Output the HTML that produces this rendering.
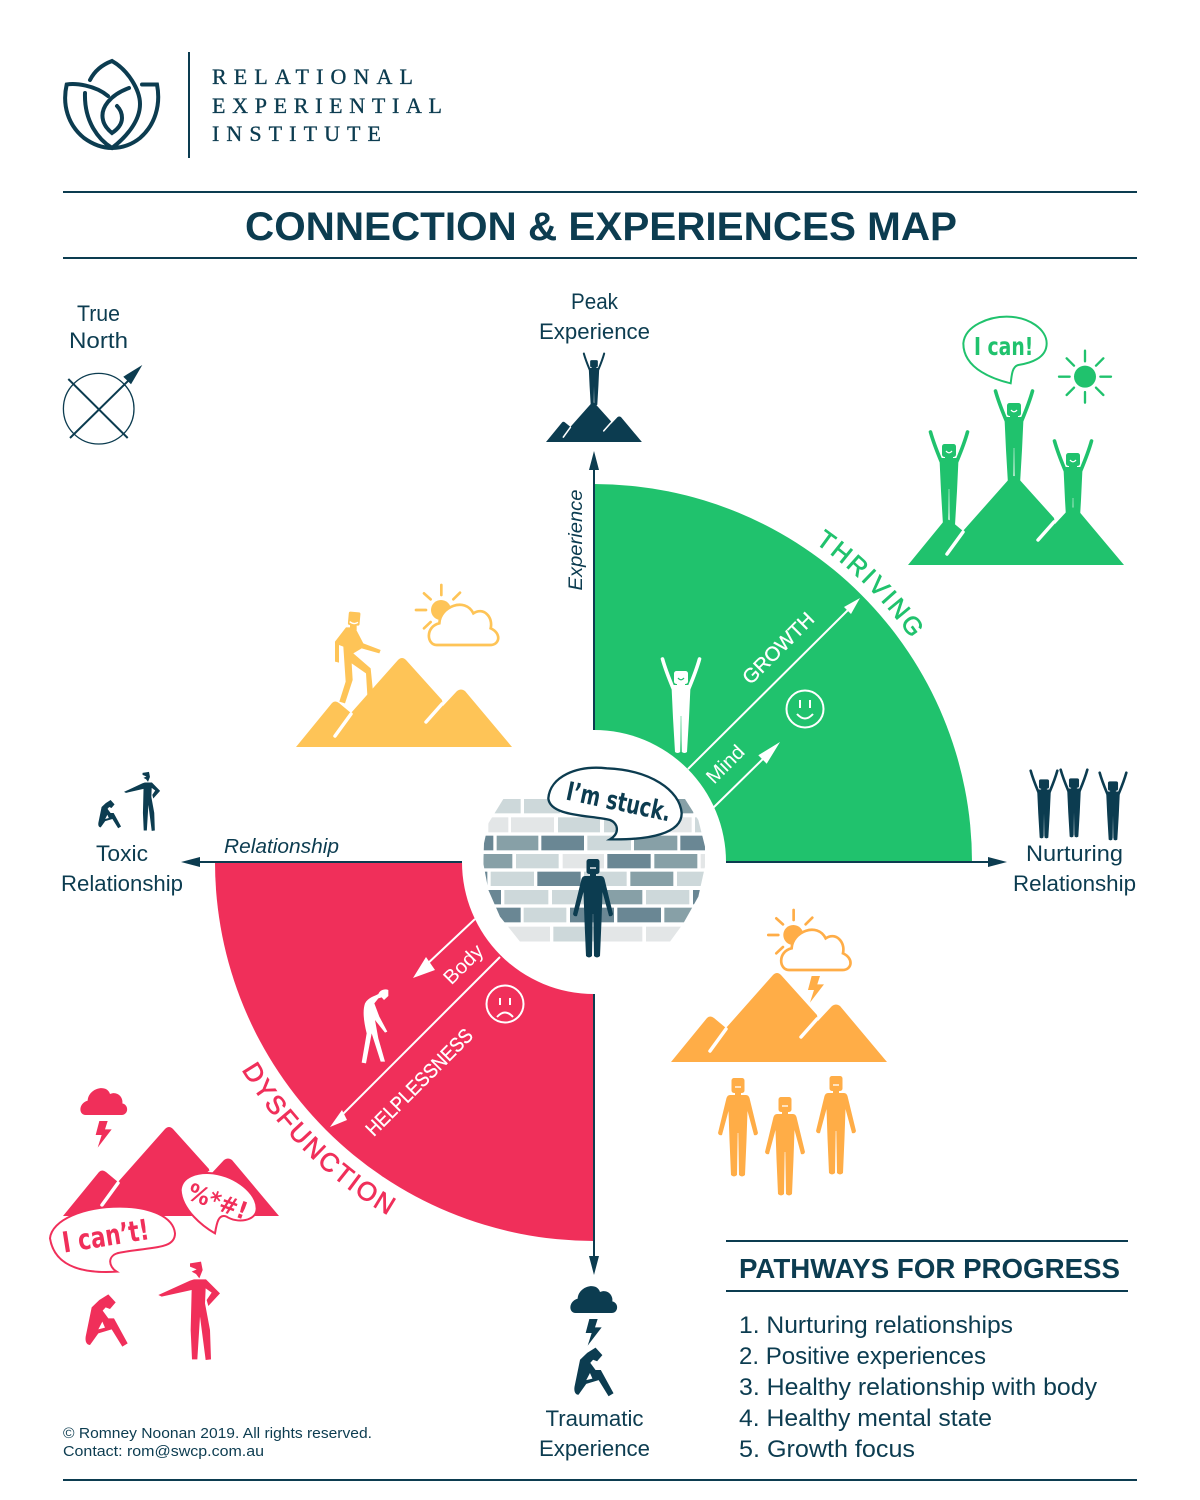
<!DOCTYPE html>
<html><head><meta charset="utf-8"><title>Connection &amp; Experiences Map</title>
<style>
html,body{margin:0;padding:0;background:#fff}
svg{display:block}
text{font-family:"Liberation Sans",sans-serif}
.l{font-size:22px;fill:#0c3c50;text-anchor:middle}
.hand{font-family:"DejaVu Sans","Liberation Sans",sans-serif;font-weight:bold}
</style></head><body>
<svg width="1200" height="1500" viewBox="0 0 1200 1500" xmlns="http://www.w3.org/2000/svg">
<defs>
<g id="up">
<path d="M-18.500,1C-16,10-13,18-8,30M18.500,1C16,10 13,18 8,30" fill="none" stroke="currentColor" stroke-width="3.600" stroke-linecap="round"/>
<path d="M-9,27L-4,27-4,24 4,24 4,27 9,27Q9.500,27 9.500,28L8,60 6,94Q3.500,96 .8,94L0,60-.8,94Q-3.500,96-6,94L-8,60-9.500,28Z" fill="currentColor"/>
<rect x="-7" y="13" width="14" height="13" rx="2.500" fill="currentColor"/>
<path d="M-3,20Q0,23.500 3,20" fill="none" stroke="var(--b)" stroke-width="1.300"/>
<path d="M0,58V92" stroke="var(--b)" stroke-width="1" opacity=".5"/>
</g>
<g id="man">
<rect x="-6.500" y="0" width="13" height="15" rx="2.500" fill="currentColor"/>
<path d="M-3,9H3" stroke="var(--b)" stroke-width="1.300"/>
<path d="M-8,17L8,17Q10.500,17 11.500,20L20,55Q19,58 16,57L9.500,33 8.500,62 7,97Q4,100 1,97L.3,55-.3,55-1,97Q-4,100-7,97L-8.500,62-9.500,33-16,57Q-19,58-20,55L-11.500,20Q-10.500,17-8,17Z" fill="currentColor"/>
<path d="M-3,14V18H3V14Z" fill="currentColor"/>
</g>
<g id="mtn">
<path d="M0,0L36,-44Q39,-47 43,-44L55,-34 102,-87Q106,-91 110,-87L146,-47 147,-41 161,-56Q165,-59 169,-56L216,0Z" fill="currentColor"/>
<path d="M39,-11L55,-33M130,-25L146,-43" stroke="#fff" stroke-width="3.500" stroke-linecap="round"/>
</g>
<path id="cloud" d="M137,135C115,135 115,100 143,92C145,55 200,40 210,72C235,62 250,85 247,100C268,105 265,135 245,135Z" fill="currentColor"/>
<path id="bolt" d="M178,153L203,153 195,178 215,178 173,233 185,195 167,195Z" fill="currentColor"/>
<path id="sit" fill-rule="evenodd" d="M155,712L178,690 205,673 227,697 210,717 197,712 188,722 205,745 222,745 263,820 247,830 215,778 175,790 150,825C140,825 135,815 137,800ZM187,755L175,778 195,773Z" fill="currentColor"/>
<path id="point" d="M450,580L483,575 488,600 478,625 468,612 455,605 470,598 450,590ZM462,628L498,628 540,670 505,708 500,690 515,668 497,655 495,700 510,780 513,868 497,870 480,740 472,868 456,868 452,780 455,660 365,680 355,675 450,632Z" fill="currentColor"/>
<g id="sunc">
<circle cx="483" cy="120" r="30" fill="currentColor"/>
<path d="M484,45V75M432,70L452,88M540,68L520,88M408,120H438M432,175L452,156" stroke="currentColor" stroke-width="8" stroke-linecap="round"/>
<path d="M470,225C440,225 435,170 478,160C480,110 555,80 580,130C610,110 640,140 632,175C665,190 660,225 630,225Z" fill="#fff" stroke="currentColor" stroke-width="8"/>
</g>
<clipPath id="wall"><path d="M160,237L705,237 745,300 765,380 765,440 745,530 700,610 660,665 210,665 150,590 115,510 100,430 102,370 115,310Z"/></clipPath>
</defs>

<!-- header -->
<g fill="none" stroke="#0c3c50" stroke-width="4" stroke-linecap="round">
<path d="M90,80C95,70 104,64 112,61C128,70 140,90 140,104C140,122 125,138 112,148C99,140 84,122 85,93"/>
<path d="M108,96C95,85 75,83 66.700,84.500C62,105 68,125 84,138C95,146 105,148 112,148C120,148 130,146 140,138C155,125 161,105 157,84.500L142,84.500"/>
<path d="M129,88C110,95 100,108 103,120C104,125 108,130 112,133C118,129 122,124 122,118C122,113 120,109 117,106"/>
</g>
<rect x="188" y="52" width="2" height="106" fill="#0c3c50"/>
<g font-size="22" fill="#0c3c50" stroke="#0c3c50" stroke-width=".35">
<text x="212" y="84" textLength="201" style="font-family:'Liberation Serif',serif">RELATIONAL</text>
<text x="212" y="113" textLength="230" style="font-family:'Liberation Serif',serif">EXPERIENTIAL</text>
<text x="212" y="141" textLength="169" style="font-family:'Liberation Serif',serif">INSTITUTE</text>
</g>
<rect x="63" y="191" width="1074" height="2" fill="#0c3c50"/>
<rect x="63" y="257" width="1074" height="2" fill="#0c3c50"/>
<text x="245" y="240" font-size="40" font-weight="bold" fill="#0c3c50" textLength="712" lengthAdjust="spacingAndGlyphs">CONNECTION &amp; EXPERIENCES MAP</text>
<rect x="63" y="1479" width="1074" height="2" fill="#0c3c50"/>

<!-- compass -->
<text class="l" x="98.500" y="321" textLength="43" lengthAdjust="spacingAndGlyphs">True</text>
<text class="l" x="98.500" y="348" textLength="59" lengthAdjust="spacingAndGlyphs">North</text>
<circle cx="98.700" cy="408.700" r="35.300" fill="none" stroke="#0c3c50" stroke-width="1.300"/>
<path d="M70,438L128,381M68.300,379L127.700,438" stroke="#0c3c50" stroke-width="2"/>
<path d="M142.300,365L123.300,376.700 131,384.300Z" fill="#0c3c50"/>

<!-- quadrants -->
<path d="M594,484A378,378 0 0 1 972,862L594,862Z" fill="#20c26d"/>
<path d="M215,862A379,379 0 0 0 594,1241L594,862Z" fill="#f02f5a"/>
<path d="M594,465V1260M195,862H995" stroke="#0c3c50" stroke-width="2"/>
<path d="M594,451L589,470H599ZM594,1275L589,1256H599ZM181,862L200,857V867ZM1007,862L988,857V867Z" fill="#0c3c50"/>
<circle cx="594" cy="862" r="132" fill="#fff"/>

<!-- green inner -->
<g stroke="#fff" stroke-width="2" fill="none">
<path d="M688,769L850,608"/><path d="M713,808L768,754"/>
<circle cx="805" cy="709" r="18.500"/>
<path d="M800,700V708M810,700V708M797,714Q805,723 813,714"/>
</g>
<path d="M860,598L844,607 851,614ZM780,742L758.300,755.300 766.700,763.700Z" fill="#fff"/>
<use href="#up" transform="translate(681,658)" style="color:#fff;--b:#20c26d"/>
<text transform="translate(783,653) rotate(-45)" font-size="20" fill="#fff" stroke="#fff" stroke-width=".3" text-anchor="middle" textLength="92" lengthAdjust="spacingAndGlyphs">GROWTH</text>
<text transform="translate(730,769) rotate(-45)" font-size="20" fill="#fff" text-anchor="middle" textLength="45" lengthAdjust="spacingAndGlyphs">Mind</text>
<path id="arcG" d="M815,543A388,388 0 0 1 958.600,729.300" fill="none"/>
<text font-size="25" fill="#20c26d" stroke="#20c26d" stroke-width=".7" letter-spacing="2.400"><textPath href="#arcG">THRIVING</textPath></text>

<!-- red inner -->
<g stroke="#fff" stroke-width="2" fill="none">
<path d="M475,919L425,966"/><path d="M500,957L340,1117"/>
<circle cx="505" cy="1004" r="18.500"/>
<path d="M500,998V1005M510,998V1005M497,1017Q505,1008 513,1017"/>
</g>
<path d="M413,978L426,957 435,970ZM330,1127L342,1110 347,1120Z" fill="#fff"/>
<g transform="translate(330,920) scale(.33333)">
<path d="M105,250C115,232 135,228 145,222C150,210 165,205 175,210L175,228 162,240 155,232 145,235 133,250 148,290 172,335 165,338 135,300 145,355 165,425 152,425 125,340 108,430 95,428 110,340C100,300 98,270 105,250Z" fill="#fff"/>
</g>
<text transform="translate(468,969) rotate(-45)" font-size="20" fill="#fff" text-anchor="middle" textLength="47" lengthAdjust="spacingAndGlyphs">Body</text>
<text transform="translate(424,1087) rotate(-45)" font-size="20" fill="#fff" stroke="#fff" stroke-width=".3" text-anchor="middle" textLength="142" lengthAdjust="spacingAndGlyphs">HELPLESSNESS</text>
<path id="arcR" d="M241.600,1069.600A409,409 0 0 0 454.100,1246.300" fill="none"/>
<text font-size="26" fill="#f02f5a" stroke="#f02f5a" stroke-width=".7" letter-spacing="2.100"><textPath href="#arcR">DYSFUNCTION</textPath></text>

<!-- axis labels -->
<text transform="translate(582,540) rotate(-90)" font-size="19" font-style="italic" fill="#0c3c50" text-anchor="middle" textLength="101" lengthAdjust="spacingAndGlyphs">Experience</text>
<text x="224" y="853" font-size="20" font-style="italic" fill="#0c3c50" textLength="115" lengthAdjust="spacingAndGlyphs">Relationship</text>

<!-- brick wall -->
<g transform="translate(450,720) scale(.33333)">
<g clip-path="url(#wall)">
<g fill="#cdd8da">
<rect x="130" y="237" width="82" height="43"/><rect x="222" y="237" width="108" height="43"/>
<rect x="324" y="292" width="126" height="45"/><rect x="462" y="292" width="128" height="45"/><rect x="735" y="292" width="35" height="45"/>
<rect x="412" y="347" width="131" height="44"/>
<rect x="198" y="402" width="128" height="43"/>
<rect x="122" y="455" width="130" height="43"/><rect x="402" y="455" width="128" height="43"/><rect x="681" y="455" width="90" height="43"/>
<rect x="163" y="510" width="132" height="43"/><rect x="306" y="510" width="131" height="43"/><rect x="588" y="510" width="130" height="43"/>
<rect x="221" y="563" width="128" height="44"/>
<rect x="310" y="620" width="130" height="45"/>
</g>
<g fill="#e3e6e7">
<rect x="115" y="292" width="60" height="45"/><rect x="183" y="292" width="129" height="45"/><rect x="600" y="292" width="125" height="45"/>
<rect x="338" y="402" width="124" height="43"/><rect x="752" y="402" width="18" height="43"/>
<rect x="100" y="620" width="200" height="45"/><rect x="450" y="620" width="127" height="45"/><rect x="588" y="620" width="172" height="45"/>
</g>
<g fill="#87a0a7">
<rect x="650" y="237" width="80" height="43"/>
<rect x="140" y="347" width="125" height="44"/><rect x="552" y="347" width="130" height="44"/>
<rect x="100" y="402" width="87" height="43"/><rect x="613" y="402" width="129" height="43"/>
<rect x="541" y="455" width="129" height="43"/>
<rect x="446" y="510" width="131" height="43"/>
<rect x="643" y="563" width="127" height="44"/>
</g>
<g fill="#6a8794">
<rect x="100" y="347" width="30" height="44"/><rect x="274" y="347" width="128" height="44"/><rect x="691" y="347" width="74" height="44"/>
<rect x="472" y="402" width="130" height="43"/>
<rect x="100" y="455" width="12" height="43"/><rect x="262" y="455" width="130" height="43"/>
<rect x="100" y="510" width="53" height="43"/><rect x="729" y="510" width="41" height="43"/>
<rect x="100" y="563" width="112" height="44"/><rect x="360" y="563" width="132" height="44"/><rect x="502" y="563" width="131" height="44"/>
</g>
</g>
<path d="M295,235C300,170 380,135 470,145C600,150 690,210 695,280C695,340 600,360 480,358C510,340 505,310 480,300C420,285 300,290 295,235Z" fill="#fff" stroke="#0c3c50" stroke-width="7"/>
<text transform="translate(345,238) rotate(12)" class="hand" font-size="78" fill="#0c3c50" textLength="318" lengthAdjust="spacingAndGlyphs">I’m stuck.</text>
</g>
<use href="#man" transform="translate(593,859)" style="color:#0c3c50;--b:#fff"/>

<!-- peak -->
<text class="l" x="594.500" y="309" textLength="47" lengthAdjust="spacingAndGlyphs">Peak</text>
<text class="l" x="594.500" y="339" textLength="111" lengthAdjust="spacingAndGlyphs">Experience</text>
<use href="#mtn" transform="translate(546,442) scale(.444)" style="color:#0c3c50"/>
<use href="#up" transform="translate(594,353) scale(.55)" style="color:#0c3c50;--b:#0c3c50"/>

<!-- thriving art -->
<g style="color:#20c26d;--b:#fff">
<use href="#up" transform="translate(949,431)"/>
<use href="#up" transform="translate(1014,390)"/>
<use href="#up" transform="translate(1073,440)"/>
<use href="#mtn" transform="translate(908,565)"/>
</g>
<g transform="translate(890,300) scale(.33333)">
<path d="M220,130C225,75 300,50 350,50C420,50 470,90 470,130C470,175 420,190 385,195C365,200 365,230 362,250C320,240 220,210 220,130Z" fill="#fff" stroke="#20c26d" stroke-width="6"/>
<text x="252" y="165" class="hand" font-size="74" fill="#20c26d" textLength="178" lengthAdjust="spacingAndGlyphs">I can!</text>
<circle cx="585" cy="230" r="33" fill="#20c26d"/>
<path d="M585,152V184M585,276V308M507,230H539M631,230H663M530,175L552,197M640,175L618,197M530,285L552,263M640,285L618,263" stroke="#20c26d" stroke-width="7" stroke-linecap="round"/>
</g>

<!-- nurturing -->
<g style="color:#0c3c50;--b:#0c3c50">
<use href="#up" transform="translate(1044,770) scale(.72)"/>
<use href="#up" transform="translate(1074,769) scale(.72)"/>
<use href="#up" transform="translate(1113,772) scale(.72)"/>
</g>
<text class="l" x="1074.500" y="861" textLength="97" lengthAdjust="spacingAndGlyphs">Nurturing</text>
<text class="l" x="1074.500" y="891" textLength="123" lengthAdjust="spacingAndGlyphs">Relationship</text>

<!-- toxic -->
<use href="#point" transform="translate(54.800,656.900) scale(.195 .2)" style="color:#0c3c50"/>
<use href="#sit" transform="translate(73.700,678.900) scale(.18)" style="color:#0c3c50"/>
<text class="l" x="122" y="861" textLength="52" lengthAdjust="spacingAndGlyphs">Toxic</text>
<text class="l" x="122" y="891" textLength="122" lengthAdjust="spacingAndGlyphs">Relationship</text>

<!-- yellow art -->
<use href="#mtn" transform="translate(296,747)" style="color:#fec457"/>
<g transform="translate(280,570) scale(.33333)" style="color:#fec457">
<rect x="205" y="126" width="35" height="40" rx="5" transform="rotate(5 222 146)" fill="#fec457"/>
<rect x="210" y="160" width="20" height="20" fill="#fec457"/>
<path d="M209,155Q222,165 234,157" fill="none" stroke="#fff" stroke-width="4"/>
<path d="M198,172L225,172 250,220 302,240 298,250 245,235 220,250 272,295 280,375 262,375 258,310 215,280 218,330 195,400 178,395 197,335 190,230 177,225 177,278 165,275 165,215Z" fill="#fec457"/>
<use href="#sunc"/>
</g>

<!-- orange art -->
<use href="#mtn" transform="translate(671,1062)" style="color:#ffad47"/>
<g transform="translate(632.300,895) scale(.33333)" style="color:#ffad47"><use href="#sunc"/></g>
<use href="#bolt" transform="translate(752.300,925) scale(.33333)" style="color:#ffad47"/>
<g style="color:#ffad47;--b:#fff">
<use href="#man" transform="translate(738,1078)"/>
<use href="#man" transform="translate(785,1097)"/>
<use href="#man" transform="translate(836,1076)"/>
</g>

<!-- red art -->
<use href="#mtn" transform="translate(63,1216)" style="color:#f02f5a"/>
<g transform="translate(40,1070) scale(.33333)" style="color:#f02f5a">
<use href="#cloud"/><use href="#bolt"/>
<path d="M30,505C35,450 130,410 240,410C330,410 400,440 405,490C405,540 330,530 240,548C200,555 205,590 230,605C150,610 45,600 30,505Z" fill="#fff" stroke="#f02f5a" stroke-width="6"/>
<text transform="translate(72,548) rotate(-9)" class="hand" font-size="86" fill="#f02f5a" textLength="262" lengthAdjust="spacingAndGlyphs">I can’t!</text>
<path d="M422,360C425,320 470,305 520,310C590,320 650,370 650,415C650,455 590,460 560,440C535,430 530,460 525,490C490,470 425,420 422,360Z" fill="#fff" stroke="#f02f5a" stroke-width="6"/>
<text transform="translate(438,386) rotate(20)" class="hand" font-size="72" fill="#f02f5a" textLength="185" lengthAdjust="spacingAndGlyphs">%*#!</text>
<use href="#sit"/><use href="#point"/>
</g>

<!-- traumatic -->
<g transform="translate(530,1268) scale(.33333)" style="color:#0c3c50">
<use href="#cloud"/><use href="#bolt"/>
</g>
<use href="#sit" transform="translate(532,1139) scale(.31)" style="color:#0c3c50"/>
<text class="l" x="594.500" y="1426" textLength="98" lengthAdjust="spacingAndGlyphs">Traumatic</text>
<text class="l" x="594.500" y="1456" textLength="111" lengthAdjust="spacingAndGlyphs">Experience</text>

<!-- pathways -->
<rect x="726" y="1240" width="402" height="2" fill="#0c3c50"/>
<rect x="726" y="1290" width="402" height="2" fill="#0c3c50"/>
<text x="739" y="1278" font-size="28" font-weight="bold" fill="#0c3c50" textLength="381" lengthAdjust="spacingAndGlyphs">PATHWAYS FOR PROGRESS</text>
<g font-size="24" fill="#0c3c50">
<text x="739" y="1333" textLength="274" lengthAdjust="spacingAndGlyphs">1. Nurturing relationships</text>
<text x="739" y="1364" textLength="247" lengthAdjust="spacingAndGlyphs">2. Positive experiences</text>
<text x="739" y="1395" textLength="358" lengthAdjust="spacingAndGlyphs">3. Healthy relationship with body</text>
<text x="739" y="1426" textLength="253" lengthAdjust="spacingAndGlyphs">4. Healthy mental state</text>
<text x="739" y="1457" textLength="176" lengthAdjust="spacingAndGlyphs">5. Growth focus</text>
</g>

<!-- copyright -->
<g font-size="14.500" fill="#0c3c50">
<text x="63" y="1438" textLength="309" lengthAdjust="spacingAndGlyphs">© Romney Noonan 2019. All rights reserved.</text>
<text x="63" y="1456" textLength="201" lengthAdjust="spacingAndGlyphs">Contact: rom@swcp.com.au</text>
</g>
</svg>
</body></html>
